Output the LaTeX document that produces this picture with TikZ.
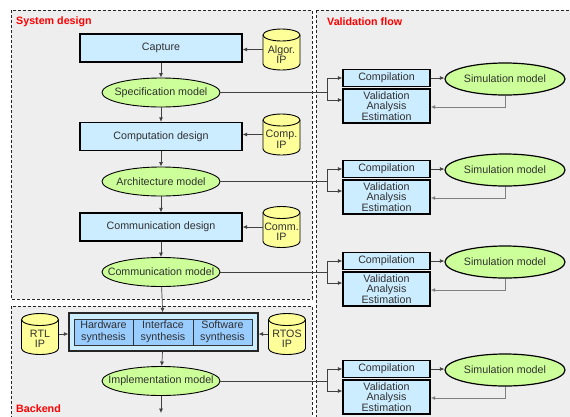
\documentclass[tikz,border=0pt]{standalone}
\usepackage{fontspec}
\setmainfont{Liberation Sans}
\usetikzlibrary{shapes.geometric,arrows.meta,calc}
\definecolor{bgc}{HTML}{EEEEEE}
\definecolor{boxc}{HTML}{CCECFF}
\definecolor{elc}{HTML}{CCFF99}
\definecolor{cylc}{HTML}{FFFF99}
\definecolor{sync}{HTML}{99CCFF}
\definecolor{txt}{HTML}{303030}
\newcommand\mainf{\fontsize{10.7}{12}\selectfont}
\newcommand\zw[1]{\makebox[0pt]{#1}}
\newcommand\ipdb[4]{%
  \begin{scope}[shift={(#2,#3)}]
    \path[cylbody] (-18.5,14.5) -- (-18.5,-14.5)
      arc[start angle=180,end angle=360,x radius=18.5,y radius=6] -- (18.5,14.5)
      arc[start angle=0,end angle=180,x radius=18.5,y radius=6] -- cycle;
    \draw[cylline] (-18.5,14.5) arc[start angle=180,end angle=360,x radius=18.5,y radius=6];
  \end{scope}
  \node[cylnode] (#1) at (#2,#3) {};
  \node[cyltext] (#1t) at (#2,#3-5) {#4};
}
\begin{document}
\begin{tikzpicture}[x=1pt,y=1pt,
  panel/.style={draw=black!85, fill=bgc, line width=0.7pt, dash pattern=on 3pt off 2pt},
  ptitle/.style={anchor=west, text=red, font=\mainf\bfseries, inner sep=0},
  tbox/.style={draw=black, line width=1.2pt, fill=boxc, text=txt, minimum width=162pt, minimum height=28pt, inner sep=0, font=\mainf},
  model/.style={ellipse, draw=black, line width=0.9pt, fill=elc, text=txt, minimum width=118pt, minimum height=29pt, inner sep=0, font=\mainf},
  simm/.style={ellipse, draw=black, line width=1.2pt, fill=elc, text=txt, minimum width=120pt, minimum height=32pt, inner sep=0, font=\mainf},
  cbox/.style={draw=black, line width=1.4pt, fill=boxc, text=txt, minimum width=87pt, minimum height=17pt, inner sep=0, font=\mainf},
  vbox/.style={cbox, minimum height=34pt, align=center, font=\fontsize{10.7}{10.6}\selectfont},
  outbox/.style={draw=black!85, line width=1.2pt, fill=boxc, minimum width=189pt, minimum height=38pt, inner sep=0},
  syn/.style={draw=black!80, line width=0.8pt, fill=sync, text=txt, minimum height=26pt, inner sep=0, align=center, font=\fontsize{10.7}{12}\selectfont},
  cylbody/.style={draw=black, line width=0.9pt, fill=cylc},
  cylline/.style={draw=black, line width=0.9pt},
  cylnode/.style={minimum width=37pt, minimum height=41pt, inner sep=0},
  cyltext/.style={inner sep=0, align=center, text=txt, font=\fontsize{10.7}{9.5}\selectfont},
  arr/.style={draw=black!75, line width=0.7pt, -{Latex[length=4.5pt,width=4pt]}},
  ln/.style={draw=black!75, line width=0.7pt},
  fb/.style={draw=black, line width=0.9pt},
  sfb/.style={draw=black!50, line width=0.9pt, -{Latex[length=4.5pt,width=4pt]}}
]
\useasboundingbox (0,0) rectangle (570,-416);
\fill[white] (0,0) rectangle (570,-416);
% panels
\path[panel] (11,-10) rectangle (312,-299);
\path[panel] (11,-306) rectangle (312,-425);
\path[panel] (316,-10) rectangle (580,-425);
\node[ptitle] (tsys) at (16,-22) {System design};
\node[ptitle] (tval) at (327,-22) {Validation flow};
\node[ptitle] (tbe) at (16,-409) {Backend};
% main column
\node[tbox] (cap) at (161,-48) {Capture};
\node[model] (spec) at (161,-92.5) {\zw{Specification model}};
\node[tbox] (cmp) at (161,-136.5) {Computation design};
\node[model] (arch) at (161,-181.5) {\zw{Architecture model}};
\node[tbox] (cmd) at (161,-227) {Communication design};
\node[model] (cmm) at (161,-272) {\zw{Communication model}};
\node[outbox] (be) at (163.5,-332) {};
\node[syn, minimum width=59pt] (hw) at (103.5,-332) {Hardware\\synthesis};
\node[syn, minimum width=60pt] (ifs) at (163,-332) {Interface\\synthesis};
\node[syn, minimum width=59pt] (sws) at (222.5,-332) {Software\\synthesis};
\node[model] (impl) at (161,-381) {\zw{Implementation model}};
\coordinate (out) at (161,-413);
% IP cylinders
\ipdb{alg}{281.5}{-49.5}{Algor.\\IP}
\ipdb{cpi}{281.5}{-134.5}{Comp.\\IP}
\ipdb{cmi}{281.5}{-227}{Comm.\\IP}
\ipdb{rtl}{40}{-334}{RTL\\IP}
\ipdb{rtos}{287}{-334}{RTOS\\IP}
% validation groups
\foreach \g/\c in {1/78,2/169,3/261,4/369}{
  \node[cbox] (comp\g) at (386.5,-\c) {Compilation};
  \node[vbox] (val\g) at (386.5,-\c-28) {Validation\\Analysis\\Estimation};
  \node[simm] (sim\g) at (505,-\c-1) {\zw{Simulation model}};
}
% main column arrows
\draw[arr] (cap) -- (spec);
\draw[arr] (spec) -- (cmp);
\draw[arr] (cmp) -- (arch);
\draw[arr] (arch) -- (cmd);
\draw[arr] (cmd) -- (cmm);
\draw[arr] (cmm) -- (be);
\draw[arr] (be) -- (impl);
\draw[arr] (impl) -- (out);
% IP arrows
\draw[arr] (alg.west) -- (alg.west -| cap.east);
\draw[arr] (cpi.west) -- (cpi.west -| cmp.east);
\draw[arr] (cmi.west) -- (cmi.west -| cmd.east);
\draw[arr] (rtl.east) -- (rtl.east -| be.west);
\draw[arr] (rtos.west) -- (rtos.west -| be.east);
% branches to validation
\foreach \m/\g in {spec/1,arch/2,cmm/3,impl/4}{
  \draw[ln] (\m.east) -- (\m.east -| 327,0) coordinate (j\g);
  \draw[arr] (j\g) |- (comp\g.west);
  \draw[arr] (j\g) |- ($(val\g.west)+(0,6)$);
  \draw[arr] (comp\g.east) -- (comp\g.east -| sim\g.west);
  \draw[sfb] (sim\g.south) |- ($(val\g.east)+(0,-1)$);
  \draw[fb] ($(val\g.west)+(0,-5)$) -- ($(val\g.west)+(0,-5)$ -| cap.south);
}
\end{tikzpicture}
\end{document}
